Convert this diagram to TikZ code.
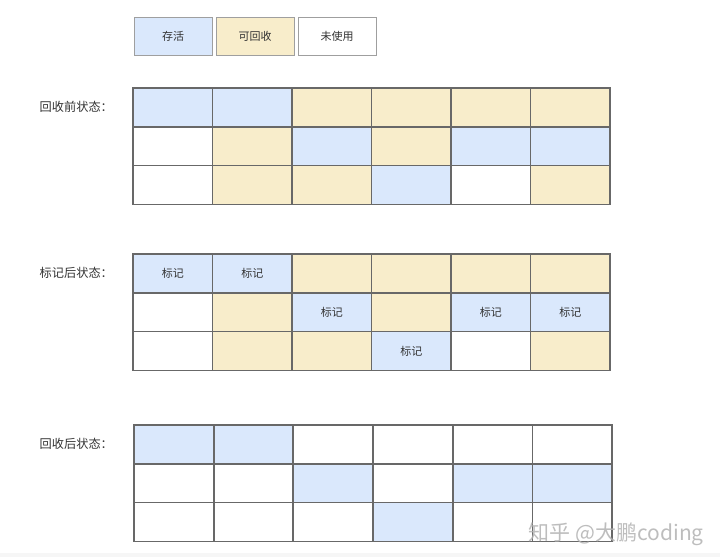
\documentclass[tikz,border=0pt]{standalone}
\usepackage{fontspec}
\newfontfamily\cjk{Noto Sans CJK SC}
\definecolor{live}{HTML}{DAE8FC}
\definecolor{recl}{HTML}{F8EDCB}
\definecolor{gridline}{HTML}{686868}
\definecolor{txt}{HTML}{333333}
\tikzset{
  legendbox/.style={draw=gray!75, line width=0.9pt, minimum width=78pt, minimum height=37.5pt, inner sep=0pt, font=\cjk\fontsize{11}{13}\selectfont, text=txt},
  cellbox/.style={draw=gridline, line width=1.6pt, minimum width=79.5pt, minimum height=38.8pt, inner sep=0pt, font=\cjk\fontsize{11}{13}\selectfont, text=txt},
  B/.style={cellbox, fill=live},
  Y/.style={cellbox, fill=recl},
  W/.style={cellbox, fill=white},
  marktext/.style={inner sep=0pt, font=\cjk\fontsize{11}{13}\selectfont, text=txt},
  rowlabel/.style={anchor=west, inner sep=0pt, font=\cjk\fontsize{12.2}{14}\selectfont, text=txt}
}
\begin{document}
\begin{tikzpicture}[x=1pt,y=-1pt]
\useasboundingbox (0,0) rectangle (720,557);
\fill[gray!7] (0,553) rectangle (720,557);
% legend
\node[legendbox, fill=live] (lg1) at (173,36.2) {存活};
\node[legendbox, fill=recl] (lg2) at (255,36.2) {可回收};
\node[legendbox, fill=white] (lg3) at (337,36.2) {未使用};
% labels
\node[rowlabel] (lab1) at (39.5,107) {回收前状态：};
\node[rowlabel] (lab2) at (39.5,273) {标记后状态：};
\node[rowlabel] (lab3) at (39.5,444) {回收后状态：};
% grid 1
\foreach \r/\row in {0/{B,B,Y,Y,Y,Y},1/{W,Y,B,Y,B,B},2/{W,Y,Y,B,W,Y}}{
  \foreach \s [count=\c from 0] in \row {
    \node[\s] (ga-\r-\c) at ({172.75+79.5*\c},{107.4+38.8*\r}) {};
  }
}
% grid 2
\foreach \r/\row in {0/{B,B,Y,Y,Y,Y},1/{W,Y,B,Y,B,B},2/{W,Y,Y,B,W,Y}}{
  \foreach \s [count=\c from 0] in \row {
    \node[\s] (gb-\r-\c) at ({172.75+79.5*\c},{273.4+38.8*\r}) {};
  }
}
\node[marktext] (m1) at (gb-0-0) {标记};
\node[marktext] (m2) at (gb-0-1) {标记};
\node[marktext] (m3) at (gb-1-2) {标记};
\node[marktext] (m4) at (gb-1-4) {标记};
\node[marktext] (m5) at (gb-1-5) {标记};
\node[marktext] (m6) at (gb-2-3) {标记};
% grid 3
\foreach \r/\row in {0/{B,B,W,W,W,W},1/{W,W,B,W,B,B},2/{W,W,W,B,W,W}}{
  \foreach \s [count=\c from 0] in \row {
    \node[\s] (gc-\r-\c) at ({173.75+79.7*\c},{444.4+38.8*\r}) {};
  }
}
% watermark
\node[anchor=east, inner sep=0pt, font=\cjk\fontsize{21}{24}\selectfont, text=gray!60, opacity=0.85] (wm) at (704,534) {知乎 @大鹏coding};
\end{tikzpicture}
\end{document}
